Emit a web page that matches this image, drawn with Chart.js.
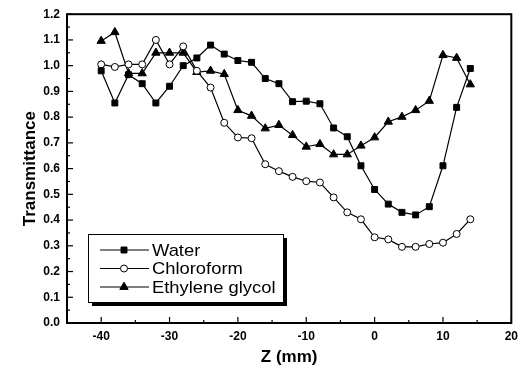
<!DOCTYPE html>
<html><head><meta charset="utf-8">
<script src="https://cdn.jsdelivr.net/npm/chart.js@4/dist/chart.umd.min.js"></script>
<style>html,body{margin:0;padding:0;background:#fff;}</style>
</head><body>
<canvas id="c" width="524" height="375"></canvas>
<script>
const zValues = [-40,-38,-36,-34,-32,-30,-28,-26,-24,-22,-20,-18,-16,-14,-12,-10,-8,-6,-4,-2,0,2,4,6,8,10,12,14];
const water = [0.98,0.855,0.965,0.93,0.855,0.92,1.0,1.03,1.08,1.045,1.02,1.013,0.95,0.93,0.86,0.862,0.852,0.758,0.724,0.611,0.519,0.462,0.43,0.42,0.452,0.611,0.838,0.989];
const chloroform = [1.005,0.995,1.005,1.005,1.10,1.005,1.075,0.98,0.915,0.778,0.721,0.718,0.617,0.59,0.568,0.551,0.546,0.488,0.43,0.403,0.333,0.325,0.296,0.296,0.307,0.312,0.346,0.403];
const ethyleneGlycol = [1.096,1.13,0.97,0.97,1.05,1.05,1.05,0.975,0.98,0.967,0.827,0.805,0.756,0.769,0.73,0.685,0.695,0.655,0.655,0.689,0.721,0.782,0.801,0.827,0.863,1.041,1.03,0.927];
const seriesNames = ['Water','Chloroform','Ethylene glycol'];
const xTickLabels = ['-40','-30','-20','-10','0','10','20'];
const yTickLabels = ['0.0','0.1','0.2','0.3','0.4','0.5','0.6','0.7','0.8','0.9','1.0','1.1','1.2'];

const FONT = "'Liberation Sans', Arial, Helvetica, sans-serif";
function pts(arr){ return zValues.map((z,i)=>({x:z,y:arr[i]})); }

const framePlugin = {
  id:'frame',
  afterDraw(chart){
    const {ctx, chartArea:a, scales} = chart;
    ctx.save();
    ctx.strokeStyle='#000';
    ctx.lineWidth=1.2;
    scales.x.ticks.forEach(t=>{
      const px = scales.x.getPixelForValue(t.value);
      const major = Math.abs(t.value%10)<1e-6;
      const len = major?6:3;
      ctx.beginPath(); ctx.moveTo(px,a.bottom); ctx.lineTo(px,a.bottom-len); ctx.stroke();
    });
    scales.y.ticks.forEach(t=>{
      const py = scales.y.getPixelForValue(t.value);
      const major = Math.abs(t.value*10-Math.round(t.value*10))<1e-6;
      const len = major?6:3;
      ctx.beginPath(); ctx.moveTo(a.left,py); ctx.lineTo(a.left+len,py); ctx.stroke();
    });
    ctx.lineWidth=2;
    ctx.strokeRect(a.left,a.top,a.right-a.left,a.bottom-a.top);
    // legend
    const bx=88, by=234, bw=195, bh=68;
    ctx.fillStyle='#000';
    ctx.fillRect(bx+4,by+4,bw,bh);
    ctx.fillStyle='#fff';
    ctx.fillRect(bx,by,bw,bh);
    ctx.lineWidth=1;
    ctx.strokeRect(bx+0.5,by+0.5,bw,bh);
    chart.data.datasets.forEach((ds,i)=>{
      const y = by+16+i*18.5;
      ctx.strokeStyle='#000'; ctx.lineWidth=1.2;
      ctx.beginPath(); ctx.moveTo(100,y); ctx.lineTo(149,y); ctx.stroke();
      ctx.fillStyle=ds.pointBackgroundColor; ctx.strokeStyle='#000'; ctx.lineWidth=1;
      Chart.helpers.drawPoint(ctx,{pointStyle:ds.pointStyle,rotation:0,radius:ds.pointRadius,borderWidth:1},124,y);
      ctx.fillStyle='#000';
      ctx.font = "17px "+FONT;
      ctx.textBaseline='middle'; ctx.textAlign='left';
      ctx.save();
      ctx.translate(152,y+1);
      ctx.scale(1.08,1);
      ctx.fillText(ds.label,0,0);
      ctx.restore();
    });
    ctx.restore();
  }
};

const mk = (label,arr,style,r,bg)=>({
  label, data:pts(arr), borderColor:'#000', borderWidth:1.2, tension:0,
  pointStyle:style, pointRadius:r, pointBackgroundColor:bg, pointBorderColor:'#000', pointBorderWidth:1,
  fill:false
});

new Chart(document.getElementById('c'),{
  type:'line',
  data:{datasets:[
    mk(seriesNames[0],water,'rect',4.2,'#000'),
    mk(seriesNames[1],chloroform,'circle',3.5,'#fff'),
    mk(seriesNames[2],ethyleneGlycol,'triangle',4.8,'#000')
  ]},
  options:{
    responsive:false, animation:false, devicePixelRatio:1,
    layout:{padding:{left:0,right:8,top:13,bottom:0}},
    plugins:{legend:{display:false},tooltip:{enabled:false}},
    scales:{
      x:{type:'linear',min:-45,max:20,
        afterFit(s){s.height=52;},
        grid:{display:false,drawTicks:false},border:{display:false},
        ticks:{stepSize:5,autoSkip:false,maxRotation:0,padding:6,color:'#000',
          font:{family:FONT,size:12,weight:'bold'},
          callback(v){const s=String(v); return xTickLabels.includes(s)?s:'';}},
        title:{display:true,text:'Z (mm)',color:'#000',font:{family:FONT,size:17,weight:'bold'},padding:{top:0,bottom:7}}
      },
      y:{min:0,max:1.2,
        afterFit(s){s.width=67;},
        grid:{display:false,drawTicks:false},border:{display:false},
        ticks:{stepSize:0.05,autoSkip:false,padding:7,color:'#000',
          font:{family:FONT,size:12,weight:'bold'},
          callback(v){return yTickLabels.find(l=>Math.abs(parseFloat(l)-v)<1e-6)||'';}},
        title:{display:true,text:'Transmittance',color:'#000',font:{family:FONT,size:17,weight:'bold'},padding:{top:20,bottom:0}}
      }
    }
  },
  plugins:[framePlugin]
});
</script>
</body></html>
